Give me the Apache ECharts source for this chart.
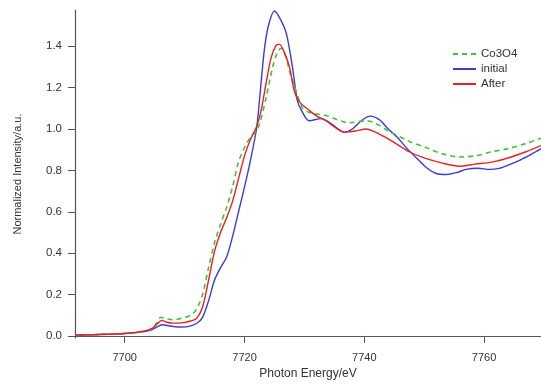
<!DOCTYPE html>
<html><head><meta charset="utf-8">
<script src="https://cdn.jsdelivr.net/npm/echarts@6/dist/echarts.min.js"></script>
<style>html,body{margin:0;padding:0;background:#fff}#c{width:541px;height:385px}</style>
</head><body><div id="c"></div>
<script>
// energies (eV) and values
const initialX = [7691.7,7695,7700,7703,7704.5,7705.5,7706.3,7707.5,7709,7710.5,7712,7713,7714,7715,7716,7717,7718,7719,7720,7721,7722,7722.5,7723.3,7724,7725,7726,7727,7728,7728.8,7729.5,7730.8,7732.8,7734.5,7736.7,7738,7739.5,7741,7742.5,7744,7745.5,7747,7748.7,7750.5,7752,7753.7,7755.5,7757,7759,7761,7762.5,7764,7766,7768,7769.5];
const initialY = [0.003,0.006,0.012,0.02,0.03,0.045,0.054,0.048,0.043,0.045,0.06,0.09,0.17,0.27,0.33,0.38,0.48,0.6,0.72,0.85,1.0,1.14,1.38,1.5,1.57,1.53,1.46,1.30,1.14,1.09,1.04,1.05,1.025,0.985,1.0,1.04,1.062,1.045,1.0,0.96,0.91,0.86,0.81,0.785,0.78,0.79,0.805,0.81,0.805,0.81,0.825,0.85,0.88,0.905];

const afterX = [7691.7,7695,7700,7703,7704.5,7705.5,7706.2,7707,7708,7709.5,7711,7712,7713,7714,7715,7716,7717,7718,7719,7720,7721,7722,7722.7,7723.6,7724.4,7725.2,7725.8,7726.5,7727.5,7728.3,7729.2,7730.8,7732.2,7733.6,7735,7736.7,7738.5,7740.3,7742.5,7744.7,7747.5,7750,7753,7755.8,7758.5,7761.3,7764,7767,7769.5];
const afterY = [0.005,0.007,0.012,0.022,0.035,0.06,0.075,0.066,0.062,0.063,0.072,0.085,0.14,0.27,0.41,0.5,0.57,0.65,0.76,0.87,0.95,1.01,1.08,1.22,1.34,1.40,1.41,1.38,1.30,1.185,1.13,1.09,1.06,1.04,1.01,0.985,0.99,1.0,0.975,0.94,0.89,0.86,0.835,0.82,0.83,0.84,0.86,0.89,0.92];

const co3o4X = [7691.7,7695,7700,7703,7704.5,7705.5,7706,7706.7,7708,7709.5,7711,7712,7713,7714,7715,7716,7717,7718,7719,7720,7721,7722.2,7723.6,7724.7,7725.5,7726.1,7727,7727.5,7728.3,7729.7,7730.8,7733.6,7737.5,7740.3,7744.7,7747.5,7750.3,7753,7755.8,7758.5,7761.3,7764,7767,7769.5];
const co3o4Y = [0.004,0.006,0.012,0.022,0.035,0.07,0.09,0.085,0.078,0.085,0.1,0.13,0.2,0.33,0.45,0.54,0.62,0.72,0.84,0.91,0.96,1.0,1.15,1.30,1.37,1.39,1.34,1.28,1.21,1.10,1.08,1.065,1.03,1.04,0.98,0.94,0.91,0.88,0.865,0.87,0.89,0.905,0.93,0.955];

const xTicks = [7700,7720,7740,7760];
const yTicks = [0,0.2,0.4,0.6,0.8,1.0,1.2,1.4];

const zip = (xs, ys) => xs.map((x, i) => [x, ys[i]]);
const chart = echarts.init(document.getElementById('c'));
const axisColor = '#555';
chart.setOption({
  animation: false,
  backgroundColor: '#fff',
  textStyle: {fontFamily: 'Liberation Sans, Arial, sans-serif'},
  grid: {left: 75, right: 0, top: 10, bottom: 45, containLabel: false},
  legend: {
    left: 447, top: 43, orient: 'vertical', itemGap: 3, itemWidth: 23, itemHeight: 10,
    textStyle: {fontSize: 11.5, color: '#333'},
    itemStyle: {opacity: 0, borderWidth: 0},
    data: ['Co3O4', 'initial', 'After']
  },
  xAxis: {
    type: 'value', min: 7691.7, max: 7769.5,
    name: 'Photon Energy/eV', nameLocation: 'middle', nameGap: 30,
    nameTextStyle: {fontSize: 12, color: '#333'},
    axisLine: {lineStyle: {color: axisColor, width: 1.2}},
    axisTick: {length: 7, lineStyle: {color: axisColor}, customValues: xTicks},
    axisLabel: {fontSize: 11, color: '#333', margin: 14, customValues: xTicks,
      formatter: v => String(Math.round(v))},
    splitLine: {show: false}
  },
  yAxis: {
    type: 'value', min: -0.01, max: 1.575,
    name: 'Normalized Intensity/a.u.', nameLocation: 'middle', nameGap: 52,
    nameTextStyle: {fontSize: 11, color: '#333'},
    axisLine: {show: true, lineStyle: {color: axisColor, width: 1.2}},
    axisTick: {show: true, length: 7, lineStyle: {color: axisColor}, customValues: yTicks},
    axisLabel: {fontSize: 11.5, color: '#333', margin: 13, customValues: yTicks,
      formatter: v => v.toFixed(1)},
    splitLine: {show: false}
  },
  series: [
    {name: 'Co3O4', type: 'line', data: zip(co3o4X, co3o4Y), smooth: 0.3, symbol: 'none',
     lineStyle: {color: '#3dc43d', width: 1.6, type: [5, 4]}, itemStyle: {color: '#3dc43d'}, z: 3},
    {name: 'initial', type: 'line', data: zip(initialX, initialY), smooth: 0.3, symbol: 'none',
     lineStyle: {color: '#3b3bd6', width: 1.4}, itemStyle: {color: '#3b3bd6'}, z: 2},
    {name: 'After', type: 'line', data: zip(afterX, afterY), smooth: 0.3, symbol: 'none',
     lineStyle: {color: '#ec2020', width: 1.4}, itemStyle: {color: '#ec2020'}, z: 4}
  ]
});
</script></body></html>
